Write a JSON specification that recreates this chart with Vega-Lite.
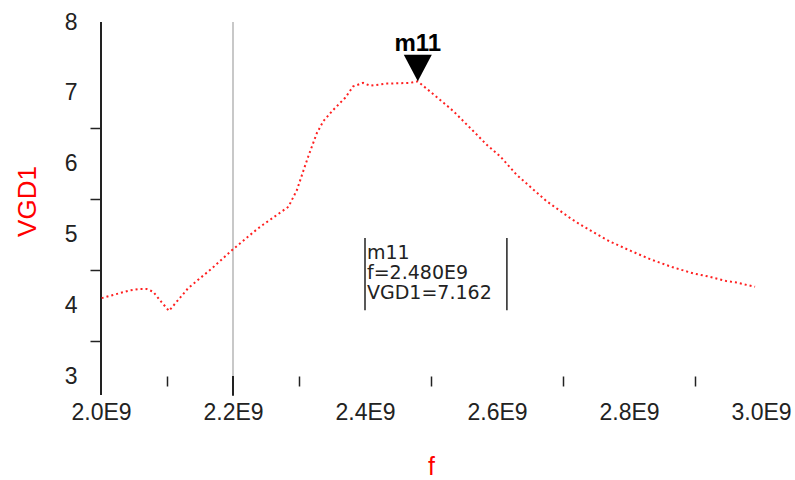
{
  "$schema": "https://vega.github.io/schema/vega-lite/v6.json",
  "width": 660,
  "height": 354,
  "autosize": {"type": "none"},
  "padding": {"left": 101, "top": 22, "right": 34, "bottom": 104},
  "background": "white",
  "config": {"view": {"stroke": null}},
  "datasets": {
    "curve": [
      {"f": 2001000000, "VGD1": 4.10},
      {"f": 2044000000, "VGD1": 4.21},
      {"f": 2059000000, "VGD1": 4.23},
      {"f": 2069000000, "VGD1": 4.23},
      {"f": 2079000000, "VGD1": 4.19},
      {"f": 2092000000, "VGD1": 4.04},
      {"f": 2103000000, "VGD1": 3.92},
      {"f": 2132000000, "VGD1": 4.24},
      {"f": 2168000000, "VGD1": 4.52},
      {"f": 2200000000, "VGD1": 4.79},
      {"f": 2236000000, "VGD1": 5.07},
      {"f": 2246000000, "VGD1": 5.14},
      {"f": 2284000000, "VGD1": 5.39},
      {"f": 2297000000, "VGD1": 5.63},
      {"f": 2307000000, "VGD1": 5.91},
      {"f": 2314000000, "VGD1": 6.10},
      {"f": 2327000000, "VGD1": 6.43},
      {"f": 2337000000, "VGD1": 6.60},
      {"f": 2352000000, "VGD1": 6.76},
      {"f": 2370000000, "VGD1": 6.93},
      {"f": 2382000000, "VGD1": 7.09},
      {"f": 2397000000, "VGD1": 7.14},
      {"f": 2408000000, "VGD1": 7.10},
      {"f": 2433000000, "VGD1": 7.13},
      {"f": 2468000000, "VGD1": 7.14},
      {"f": 2480000000, "VGD1": 7.162},
      {"f": 2519000000, "VGD1": 6.86},
      {"f": 2534000000, "VGD1": 6.74},
      {"f": 2564000000, "VGD1": 6.46},
      {"f": 2584000000, "VGD1": 6.27},
      {"f": 2605000000, "VGD1": 6.10},
      {"f": 2630000000, "VGD1": 5.84},
      {"f": 2675000000, "VGD1": 5.47},
      {"f": 2711000000, "VGD1": 5.23},
      {"f": 2726000000, "VGD1": 5.14},
      {"f": 2748000000, "VGD1": 5.02},
      {"f": 2771000000, "VGD1": 4.90},
      {"f": 2802000000, "VGD1": 4.77},
      {"f": 2832000000, "VGD1": 4.65},
      {"f": 2865000000, "VGD1": 4.54},
      {"f": 2897000000, "VGD1": 4.45},
      {"f": 2923000000, "VGD1": 4.40},
      {"f": 2948000000, "VGD1": 4.34},
      {"f": 2963000000, "VGD1": 4.32},
      {"f": 2991000000, "VGD1": 4.26}
    ],
    "cursor": [{"f": 2200000000, "VGD1": 8, "VGD1_end": 3}],
    "blackRules": [
      {"f": 2000000000, "VGD1": 8, "VGD1_end": 2.73},
      {"f": 2200000000, "VGD1": 3, "VGD1_end": 2.72}
    ],
    "readoutBars": [
      {"f": 2400000000, "VGD1": 4.95, "VGD1_end": 3.93},
      {"f": 2615000000, "VGD1": 4.95, "VGD1_end": 3.93}
    ],
    "marker": [{"f": 2480000000, "VGD1": 7.162, "name": "m11"}],
    "readout": [{"f": 2400000000, "VGD1": 4.95, "label": "m11\nf=2.480E9\nVGD1=7.162"}]
  },
  "encoding": {
    "x": {
      "field": "f",
      "type": "quantitative",
      "scale": {"domain": [2000000000, 3000000000], "nice": false, "zero": false},
      "axis": {
        "values": [2000000000, 2100000000, 2200000000, 2300000000, 2400000000, 2500000000, 2600000000, 2700000000, 2800000000, 2900000000, 3000000000],
        "labelExpr": "round(datum.value/1e8) % 2 === 0 ? format(datum.value/1e9, '.1f') + 'E9' : ''",
        "tickOpacity": {"condition": {"test": "round(datum.value/1e8) % 2 === 1", "value": 1}, "value": 0},
        "tickSize": 10,
        "tickWidth": 1.5,
        "tickColor": "#222",
        "domain": false,
        "grid": false,
        "labelFont": "Liberation Sans",
        "labelFontSize": 23,
        "labelColor": "#222",
        "labelPadding": 15,
        "labelFlush": false,
        "labelOverlap": false,
        "title": "f",
        "titleColor": "#ff0000",
        "titleFont": "Liberation Sans",
        "titleFontSize": 25,
        "titleFontWeight": "normal",
        "titleX": 330,
        "titleY": 98,
        "titleAlign": "center",
        "titleBaseline": "alphabetic"
      }
    },
    "y": {
      "field": "VGD1",
      "type": "quantitative",
      "scale": {"domain": [3, 8], "nice": false, "zero": false},
      "axis": {
        "values": [3, 3.5, 4, 4.5, 5, 5.5, 6, 6.5, 7, 7.5, 8],
        "labelExpr": "datum.value % 1 === 0 ? format(datum.value, 'd') : ''",
        "tickOpacity": {"condition": {"test": "datum.value % 1 !== 0 && datum.value < 7", "value": 1}, "value": 0},
        "tickSize": 11,
        "tickWidth": 1.5,
        "tickColor": "#222",
        "domain": false,
        "grid": false,
        "labelFont": "Liberation Sans",
        "labelFontSize": 23,
        "labelColor": "#222",
        "labelPadding": 13,
        "labelFlush": false,
        "labelOverlap": false,
        "title": "VGD1",
        "titleColor": "#ff0000",
        "titleFont": "Liberation Sans",
        "titleFontSize": 26,
        "titleFontWeight": "normal",
        "titleAngle": -90,
        "titleX": -66,
        "titleY": 179,
        "titleAlign": "center",
        "titleBaseline": "alphabetic"
      }
    }
  },
  "layer": [
    {
      "data": {"name": "cursor"},
      "mark": {"type": "rule", "color": "#c8c8c8", "strokeWidth": 2, "clip": false},
      "encoding": {"y2": {"field": "VGD1_end"}}
    },
    {
      "data": {"name": "blackRules"},
      "mark": {"type": "rule", "color": "#222", "strokeWidth": 2, "clip": false},
      "encoding": {"y2": {"field": "VGD1_end"}}
    },
    {
      "data": {"name": "readoutBars"},
      "mark": {"type": "rule", "color": "#222", "strokeWidth": 1.5, "clip": false},
      "encoding": {"y2": {"field": "VGD1_end"}}
    },
    {
      "data": {"name": "curve"},
      "mark": {"type": "line", "color": "#ff2020", "strokeWidth": 2, "strokeDash": [2, 3], "clip": false},
      "encoding": {}
    },
    {
      "data": {"name": "marker"},
      "mark": {"type": "point", "shape": "M-1,-1.9L1,-1.9L0,0Z", "size": 784, "filled": true, "color": "black", "opacity": 1},
      "encoding": {}
    },
    {
      "data": {"name": "marker"},
      "mark": {"type": "text", "font": "Liberation Sans", "fontSize": 24, "fontWeight": "bold", "color": "black", "align": "center", "baseline": "alphabetic", "dy": -30},
      "encoding": {"text": {"field": "name"}}
    },
    {
      "data": {"name": "readout"},
      "mark": {"type": "text", "font": "DejaVu Sans", "fontSize": 19, "lineHeight": 20, "lineBreak": "\n", "color": "#222", "align": "left", "baseline": "top", "dx": 2, "dy": 6},
      "encoding": {"text": {"field": "label"}}
    }
  ]
}
